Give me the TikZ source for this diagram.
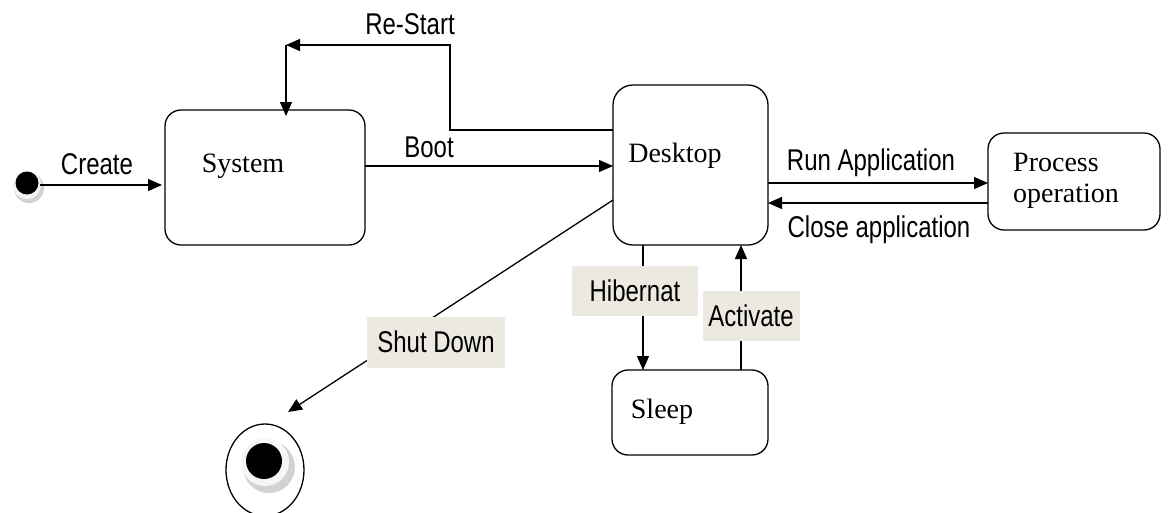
\documentclass[tikz,border=0pt]{standalone}
\usepackage{fontspec}
\setmainfont{Liberation Serif}
\newfontfamily\lblfont[FakeStretch=0.8]{Liberation Sans}
\usetikzlibrary{arrows.meta}
\definecolor{lblbg}{RGB}{236,233,224}
\definecolor{shadowgray}{RGB}{210,210,210}
\tikzset{
  state/.style={draw, line width=1.3pt, rounded corners=16pt},
  statetext/.style={font=\fontsize{28}{31}\selectfont, inner sep=0pt},
  lbl/.style={font=\lblfont\fontsize{30}{32}\selectfont, inner sep=0pt},
  lblbox/.style={font=\lblfont\fontsize{30}{32}\selectfont, fill=lblbg, inner sep=0pt},
  conn/.style={line width=1.3pt, -{Triangle[length=14pt,width=12pt]}},
}
\begin{document}
\begin{tikzpicture}[x=1pt,y=-1pt]
\useasboundingbox (0,0) rectangle (1173,512);
% initial state
\fill[shadowgray] (29,188) circle (15);
\fill[white!92!gray] (27,185) circle (14);
\node[circle, fill=black, minimum size=23pt, inner sep=0pt] (init) at (27,183) {};
% states
\draw[state] (165,110) rectangle (365,245);
\node[statetext] (systxt) at (243,166) {System};
\draw[state, rounded corners=20pt] (613,85) rectangle (768,245);
\node[statetext] (desktxt) at (675,156) {Desktop};
\draw[state] (988,133) rectangle (1160,230);
\node[statetext, align=left, anchor=west] (proctxt) at (1013,181) {Process\\operation};
\draw[state] (612,370) rectangle (768,455);
\node[statetext] (sleeptxt) at (662,412) {Sleep};
% final state
\draw[line width=1.3pt] (265,470) ellipse (39 and 46);
\fill[shadowgray] (269,467) circle (26);
\fill[white!93!gray] (265,462) circle (24);
\node[circle, fill=black, minimum size=36pt, inner sep=0pt] (final) at (264,461) {};
% coordinates
\coordinate (c1) at (40,185);
\coordinate (c2) at (162,185);
\coordinate (b1) at (365,166);
\coordinate (b2) at (613,166);
\coordinate (r1) at (613,130);
\coordinate (r2) at (450,130);
\coordinate (r3) at (450,45);
\coordinate (r4) at (286,45);
\coordinate (r5) at (286,116);
\coordinate (ra1) at (768,183);
\coordinate (ra2) at (988,183);
\coordinate (ca1) at (988,203);
\coordinate (ca2) at (768,203);
\coordinate (h1) at (643,245);
\coordinate (h2) at (643,370);
\coordinate (a1) at (741,370);
\coordinate (a2) at (741,245);
\coordinate (s1) at (613,200);
\coordinate (s2) at (288,412);
% connectors
\draw[conn] (c1) -- (c2);
\node[lbl] (lcreate) at (97,164) {Create};
\draw[conn] (b1) -- (b2);
\node[lbl] (lboot) at (429,147) {Boot};
\draw[conn] (r1) -- (r2) -- (r3) -- (r4);
\draw[conn] (r4) -- (r5);
\node[lbl] (lrestart) at (410,24) {Re-Start};
\draw[conn] (ra1) -- (ra2);
\node[lbl] (lrun) at (871,163) {Run Application};
\draw[conn] (ca1) -- (ca2);
\node[lbl] (lclose) at (879,230) {Close application};
\draw[conn] (h1) -- (h2);
\node[lblbox, minimum width=126pt, minimum height=50pt] (lhib) at (635,291) {Hibernat};
\draw[conn] (a1) -- (a2);
\node[lblbox, minimum width=97pt, minimum height=50pt] (lact) at (751,316) {Activate};
\draw[conn] (s1) -- (s2);
\node[lblbox, minimum width=138pt, minimum height=51pt] (lshut) at (436,342) {Shut Down};
\end{tikzpicture}
\end{document}
